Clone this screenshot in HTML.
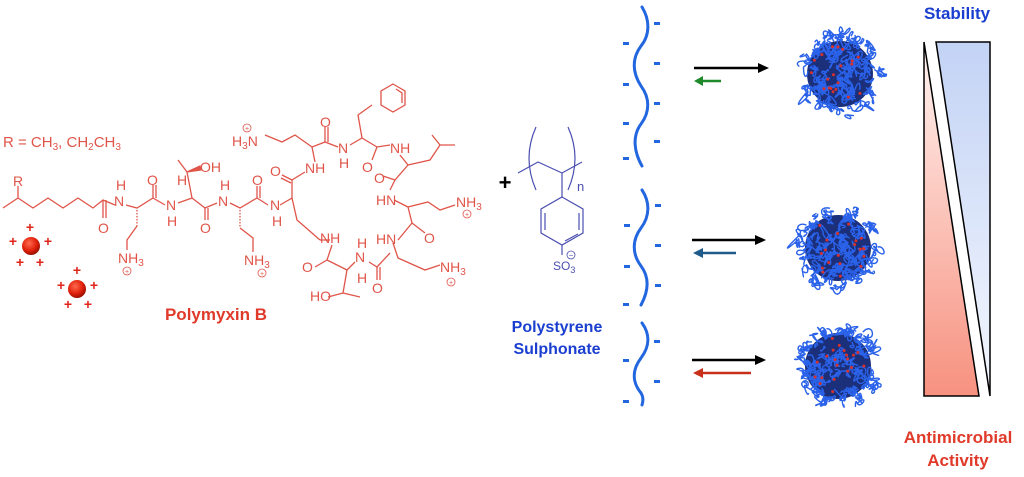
<!DOCTYPE html>
<html><head><meta charset="utf-8"><style>
html,body{margin:0;padding:0;background:#fff;}
svg{display:block;}
text{font-family:"Liberation Sans",Arial,sans-serif;}
</style></head><body>
<svg id="s" width="1024" height="477" viewBox="0 0 1024 477" xmlns="http://www.w3.org/2000/svg">
<defs>
<linearGradient id="gb" x1="0" y1="0" x2="0" y2="1"><stop offset="0" stop-color="#c3d3f5"/><stop offset="1" stop-color="#f4f7fe"/></linearGradient>
<linearGradient id="gr" x1="0" y1="0" x2="0" y2="1"><stop offset="0" stop-color="#fff4f2"/><stop offset="1" stop-color="#f7917f"/></linearGradient>
<radialGradient id="ball" cx="0.4" cy="0.35" r="0.7"><stop offset="0" stop-color="#ff6a50"/><stop offset="0.6" stop-color="#e0200a"/><stop offset="1" stop-color="#8a0f00"/></radialGradient>
</defs>

<!-- Polymyxin B -->
<g stroke="#e0554a" stroke-width="1.3" fill="none">
<polyline points="3,208 18,198 33,208 48,198 63,208 78,198 93,208 103,200 115,205"/>
<line x1="18" y1="198" x2="18" y2="186"/>
<line x1="103" y1="200" x2="103" y2="218"/><line x1="106" y1="200" x2="106" y2="218"/>
<polyline points="126,205 137,208 153,198 165,205"/>
<line x1="137" y1="210" x2="137" y2="226" stroke-dasharray="1.5,1.5"/>
<polyline points="137,226 127,240 127,250"/>
<line x1="153" y1="198" x2="153" y2="185"/><line x1="156" y1="198" x2="156" y2="185"/>
<polyline points="178,203 192,198 205,208 217,203"/>
<line x1="192" y1="198" x2="187" y2="172"/>
<polyline points="187,172 178,160"/>
<polygon points="187,172 200,166 201,170" fill="#e0554a"/>
<line x1="205" y1="208" x2="205" y2="220"/><line x1="208" y1="208" x2="208" y2="220"/>
<polyline points="230,203 240,208 257,198 268,205"/>
<line x1="240" y1="210" x2="240" y2="228" stroke-dasharray="1.5,1.5"/>
<polyline points="240,228 253,238 253,252"/>
<line x1="257" y1="198" x2="257" y2="186"/><line x1="260" y1="198" x2="260" y2="186"/>
<polyline points="280,205 292,198 292,180 305,172"/>
<line x1="292" y1="180" x2="282" y2="175"/><line x1="291" y1="183" x2="281" y2="178"/>
<polyline points="292,198 297,220 312,233 320,240"/>
<polyline points="315,162 312,147 325,142 338,147"/>
<polyline points="312,147 295,135 282,142 265,135"/>
<line x1="325" y1="142" x2="325" y2="127"/><line x1="328" y1="142" x2="328" y2="127"/>
<polyline points="350,145 362,138 377,147 390,145"/>
<polyline points="362,138 358,115 372,105"/>
<polygon points="393,84 405,91 405,105 393,112 381,105 381,91"/>
<polyline points="396,89 402,93 402,103"/>
<line x1="377" y1="147" x2="372" y2="160"/>
<polyline points="400,155 408,165 395,180 390,190"/>
<polyline points="408,165 430,160 440,145 455,145"/>
<line x1="440" y1="145" x2="432" y2="135"/>
<line x1="395" y1="180" x2="383" y2="176"/>
<polyline points="394,200 408,207 412,223 398,240"/>
<polyline points="408,207 428,202 440,210 455,205"/>
<line x1="412" y1="223" x2="425" y2="233"/>
<polyline points="393,243 398,258 425,270 440,265"/>
<polyline points="390,253 377,267 369,262"/>
<line x1="377" y1="267" x2="377" y2="280"/><line x1="380" y1="267" x2="380" y2="280"/>
<polyline points="355,262 347,270 343,293 360,297"/>
<polyline points="347,270 327,260 332,245"/>
<line x1="327" y1="260" x2="315" y2="267"/>
<polyline points="320,240 330,240"/>
<polyline points="343,293 328,297"/>
</g>
<g fill="#e0554a" font-size="14">
<text x="3" y="147" font-size="15">R = CH<tspan font-size="10" dy="3">3</tspan><tspan dy="-3">, CH</tspan><tspan font-size="10" dy="3">2</tspan><tspan dy="-3">CH</tspan><tspan font-size="10" dy="3">3</tspan></text>
<text x="13" y="186">R</text>
<text x="98" y="233">O</text>
<text x="114" y="206">N</text><text x="116" y="190">H</text>
<text x="147" y="185">O</text>
<text x="166" y="210">N</text><text x="167" y="226">H</text>
<text x="177" y="185">H</text>
<text x="200" y="172">OH</text>
<text x="200" y="233">O</text>
<text x="218" y="206">N</text><text x="220" y="190">H</text>
<text x="118" y="263">NH<tspan font-size="10" dy="3">3</tspan></text>
<text x="252" y="185">O</text>
<text x="270" y="210">N</text><text x="272" y="226">H</text>
<text x="244" y="265">NH<tspan font-size="10" dy="3">3</tspan></text>
<text x="270" y="176">O</text>
<text x="305" y="173">NH</text>
<text x="232" y="146">H<tspan font-size="10" dy="3">3</tspan><tspan dy="-3">N</tspan></text>
<text x="320" y="127">O</text>
<text x="338" y="153">N</text><text x="339" y="168">H</text>
<text x="362" y="172">O</text>
<text x="390" y="153">NH</text>
<text x="374" y="183">O</text>
<text x="376" y="205">HN</text>
<text x="456" y="207">NH<tspan font-size="10" dy="3">3</tspan></text>
<text x="424" y="243">O</text>
<text x="376" y="244">HN</text>
<text x="440" y="272">NH<tspan font-size="10" dy="3">3</tspan></text>
<text x="372" y="293">O</text>
<text x="355" y="262">N</text><text x="357" y="248">H</text>
<text x="357" y="283">H</text>
<text x="320" y="243">NH</text>
<text x="302" y="272">O</text>
<text x="310" y="301">HO</text>
</g>
<g fill="none" stroke="#e0554a" stroke-width="0.8">
<circle cx="127" cy="271" r="4"/><circle cx="262" cy="273" r="4"/><circle cx="247" cy="128" r="4"/><circle cx="467" cy="214" r="4"/><circle cx="451" cy="282" r="4"/>
</g>
<g font-size="7" fill="#e0554a" text-anchor="middle"><text x="127" y="274">+</text><text x="262" y="276">+</text><text x="247" y="131">+</text><text x="467" y="217">+</text><text x="451" y="285">+</text></g>
<text x="216" y="320" font-size="17" font-weight="bold" fill="#e03a2a" text-anchor="middle">Polymyxin B</text>
<circle cx="31" cy="246" r="9" fill="url(#ball)"/>
<circle cx="77" cy="289" r="9" fill="url(#ball)"/>
<g font-size="14" font-weight="bold" fill="#e0251a" text-anchor="middle">
<text x="30" y="232">+</text><text x="13" y="246">+</text><text x="48" y="246">+</text><text x="20" y="267">+</text><text x="40" y="267">+</text>
<text x="77" y="275">+</text><text x="61" y="290">+</text><text x="94" y="290">+</text><text x="68" y="309">+</text><text x="88" y="309">+</text>
</g>

<!-- plus & polystyrene -->
<text x="505" y="190" font-size="22" font-weight="bold" fill="#000" text-anchor="middle">+</text>
<g stroke="#4a4fb0" stroke-width="1.2" fill="none">
<polyline points="518,173 538,162 562,173 582,162"/>
<path d="M536,127 Q522,158 536,190"/><path d="M568,127 Q582,158 568,190"/>
<line x1="562" y1="173" x2="562" y2="197"/>
<polygon points="562,197 583,209 583,233 562,245 541,233 541,209"/>
<polyline points="545,213 545,230"/><polyline points="579,213 579,230"/><polyline points="565,241 578,234"/>
<line x1="562" y1="245" x2="562" y2="255"/>
<circle cx="571" cy="255" r="4" stroke-width="0.8"/>
</g>
<text x="577" y="191" font-size="13" fill="#4a4fb0">n</text>
<text x="553" y="270" font-size="12" fill="#4a4fb0">SO<tspan font-size="9" dy="3">3</tspan></text>
<text x="571" y="258" font-size="8" fill="#4a4fb0" text-anchor="middle">−</text>
<text x="557" y="332" font-size="16" font-weight="bold" fill="#1a3fd0" text-anchor="middle">Polystyrene</text>
<text x="557" y="354" font-size="16" font-weight="bold" fill="#1a3fd0" text-anchor="middle">Sulphonate</text>

<!-- wavy chains -->
<g stroke="#2266e0" stroke-width="3" fill="none" stroke-linecap="round">
<path d="M642,7 C650,20 650,35 641,46 C632,58 632,72 641,86 C650,98 650,112 641,124 C632,136 634,152 642,166"/>
<path d="M642,190 C650,202 650,216 641,228 C632,240 632,254 641,266 C650,278 648,292 641,305"/>
<path d="M642,323 C650,334 650,346 641,358 C632,370 632,382 641,393 C644,398 643,402 642,405"/>
</g>
<g fill="#2266e0">
<rect x="654" y="22" width="6" height="3"/><rect x="623" y="42" width="6" height="3"/><rect x="654" y="62" width="6" height="3"/><rect x="623" y="83" width="6" height="3"/><rect x="654" y="102" width="6" height="3"/><rect x="623" y="122" width="6" height="3"/><rect x="654" y="140" width="6" height="3"/><rect x="623" y="157" width="6" height="3"/>
<rect x="655" y="204" width="6" height="3"/><rect x="624" y="224" width="6" height="3"/><rect x="655" y="244" width="6" height="3"/><rect x="624" y="265" width="6" height="3"/><rect x="655" y="284" width="6" height="3"/><rect x="623" y="303" width="6" height="3"/>
<rect x="654" y="340" width="6" height="3"/><rect x="623" y="359" width="6" height="3"/><rect x="654" y="380" width="6" height="3"/><rect x="623" y="400" width="6" height="3"/>
</g>

<!-- arrows -->
<g stroke-width="2.5">
<line x1="694" y1="68" x2="760" y2="68" stroke="#000"/><polygon points="758,63 769,68 758,73" fill="#000"/>
<line x1="700" y1="81" x2="721" y2="81" stroke="#1e8a2a"/><polygon points="703,76 694,81 703,86" fill="#1e8a2a"/>
<line x1="692" y1="240" x2="757" y2="240" stroke="#000"/><polygon points="755,235 766,240 755,245" fill="#000"/>
<line x1="700" y1="253" x2="736" y2="253" stroke="#1e5a8a"/><polygon points="703,248 693,253 703,258" fill="#1e5a8a"/>
<line x1="692" y1="360" x2="757" y2="360" stroke="#000"/><polygon points="755,355 766,360 755,365" fill="#000"/>
<line x1="700" y1="373" x2="751" y2="373" stroke="#c8301a"/><polygon points="703,368 693,373 703,378" fill="#c8301a"/>
</g>

<g id="np"></g>

<!-- triangles -->
<polygon points="936,42 990,42 990,396" fill="url(#gb)" stroke="#000" stroke-width="1.5"/>
<polygon points="924,42 979,396 924,396" fill="url(#gr)" stroke="#000" stroke-width="1.5"/>
<text x="957" y="19" font-size="17" font-weight="bold" fill="#1a3fd0" text-anchor="middle">Stability</text>
<text x="958" y="443" font-size="17" font-weight="bold" fill="#e03a2a" text-anchor="middle">Antimicrobial</text>
<text x="958" y="466" font-size="17" font-weight="bold" fill="#e03a2a" text-anchor="middle">Activity</text>
</svg>
<script>
(function(){
var g=document.getElementById('np');var ns='http://www.w3.org/2000/svg';
var seed=7;function r(){seed=(seed*16807)%2147483647;return seed/2147483647;}
[[840,74],[838,248],[838,366]].forEach(function(c){
 var cx=c[0],cy=c[1],R=42;
 var b=document.createElementNS(ns,'circle');b.setAttribute('cx',cx);b.setAttribute('cy',cy);b.setAttribute('r',33);b.setAttribute('fill','#1b2f7a');g.appendChild(b);
 var d='';
 for(var i=0;i<120;i++){
  var a=r()*6.283,rr=R*Math.sqrt(r());
  var x=cx+rr*Math.cos(a),y=cy+rr*Math.sin(a);
  d+='M'+x.toFixed(1)+','+y.toFixed(1);
  for(var k=0;k<2;k++){
   var s=5+r()*6;
   var x1=x+(r()-0.5)*3*s,y1=y+(r()-0.5)*3*s,x2=x+(r()-0.5)*3*s,y2=y+(r()-0.5)*3*s;
   var nx=x+(r()-0.5)*s,ny=y+(r()-0.5)*s;
   var dx=nx-cx,dy=ny-cy,dd=Math.sqrt(dx*dx+dy*dy);if(dd>R){nx=cx+dx*R/dd;ny=cy+dy*R/dd;}
   d+='C'+x1.toFixed(1)+','+y1.toFixed(1)+' '+x2.toFixed(1)+','+y2.toFixed(1)+' '+nx.toFixed(1)+','+ny.toFixed(1);
   x=nx;y=ny;
  }
 }
 var p=document.createElementNS(ns,'path');p.setAttribute('d',d);p.setAttribute('fill','none');p.setAttribute('stroke','#2a62ea');p.setAttribute('stroke-width','1.4');g.appendChild(p);
 for(var j=0;j<20;j++){var a2=r()*6.283,r2=R*0.7*Math.sqrt(r());var q=document.createElementNS(ns,'circle');q.setAttribute('cx',cx+r2*Math.cos(a2));q.setAttribute('cy',cy+r2*Math.sin(a2));q.setAttribute('r',1.5);q.setAttribute('fill','#d8302a');g.appendChild(q);}
});
})();
</script>
</body></html>
